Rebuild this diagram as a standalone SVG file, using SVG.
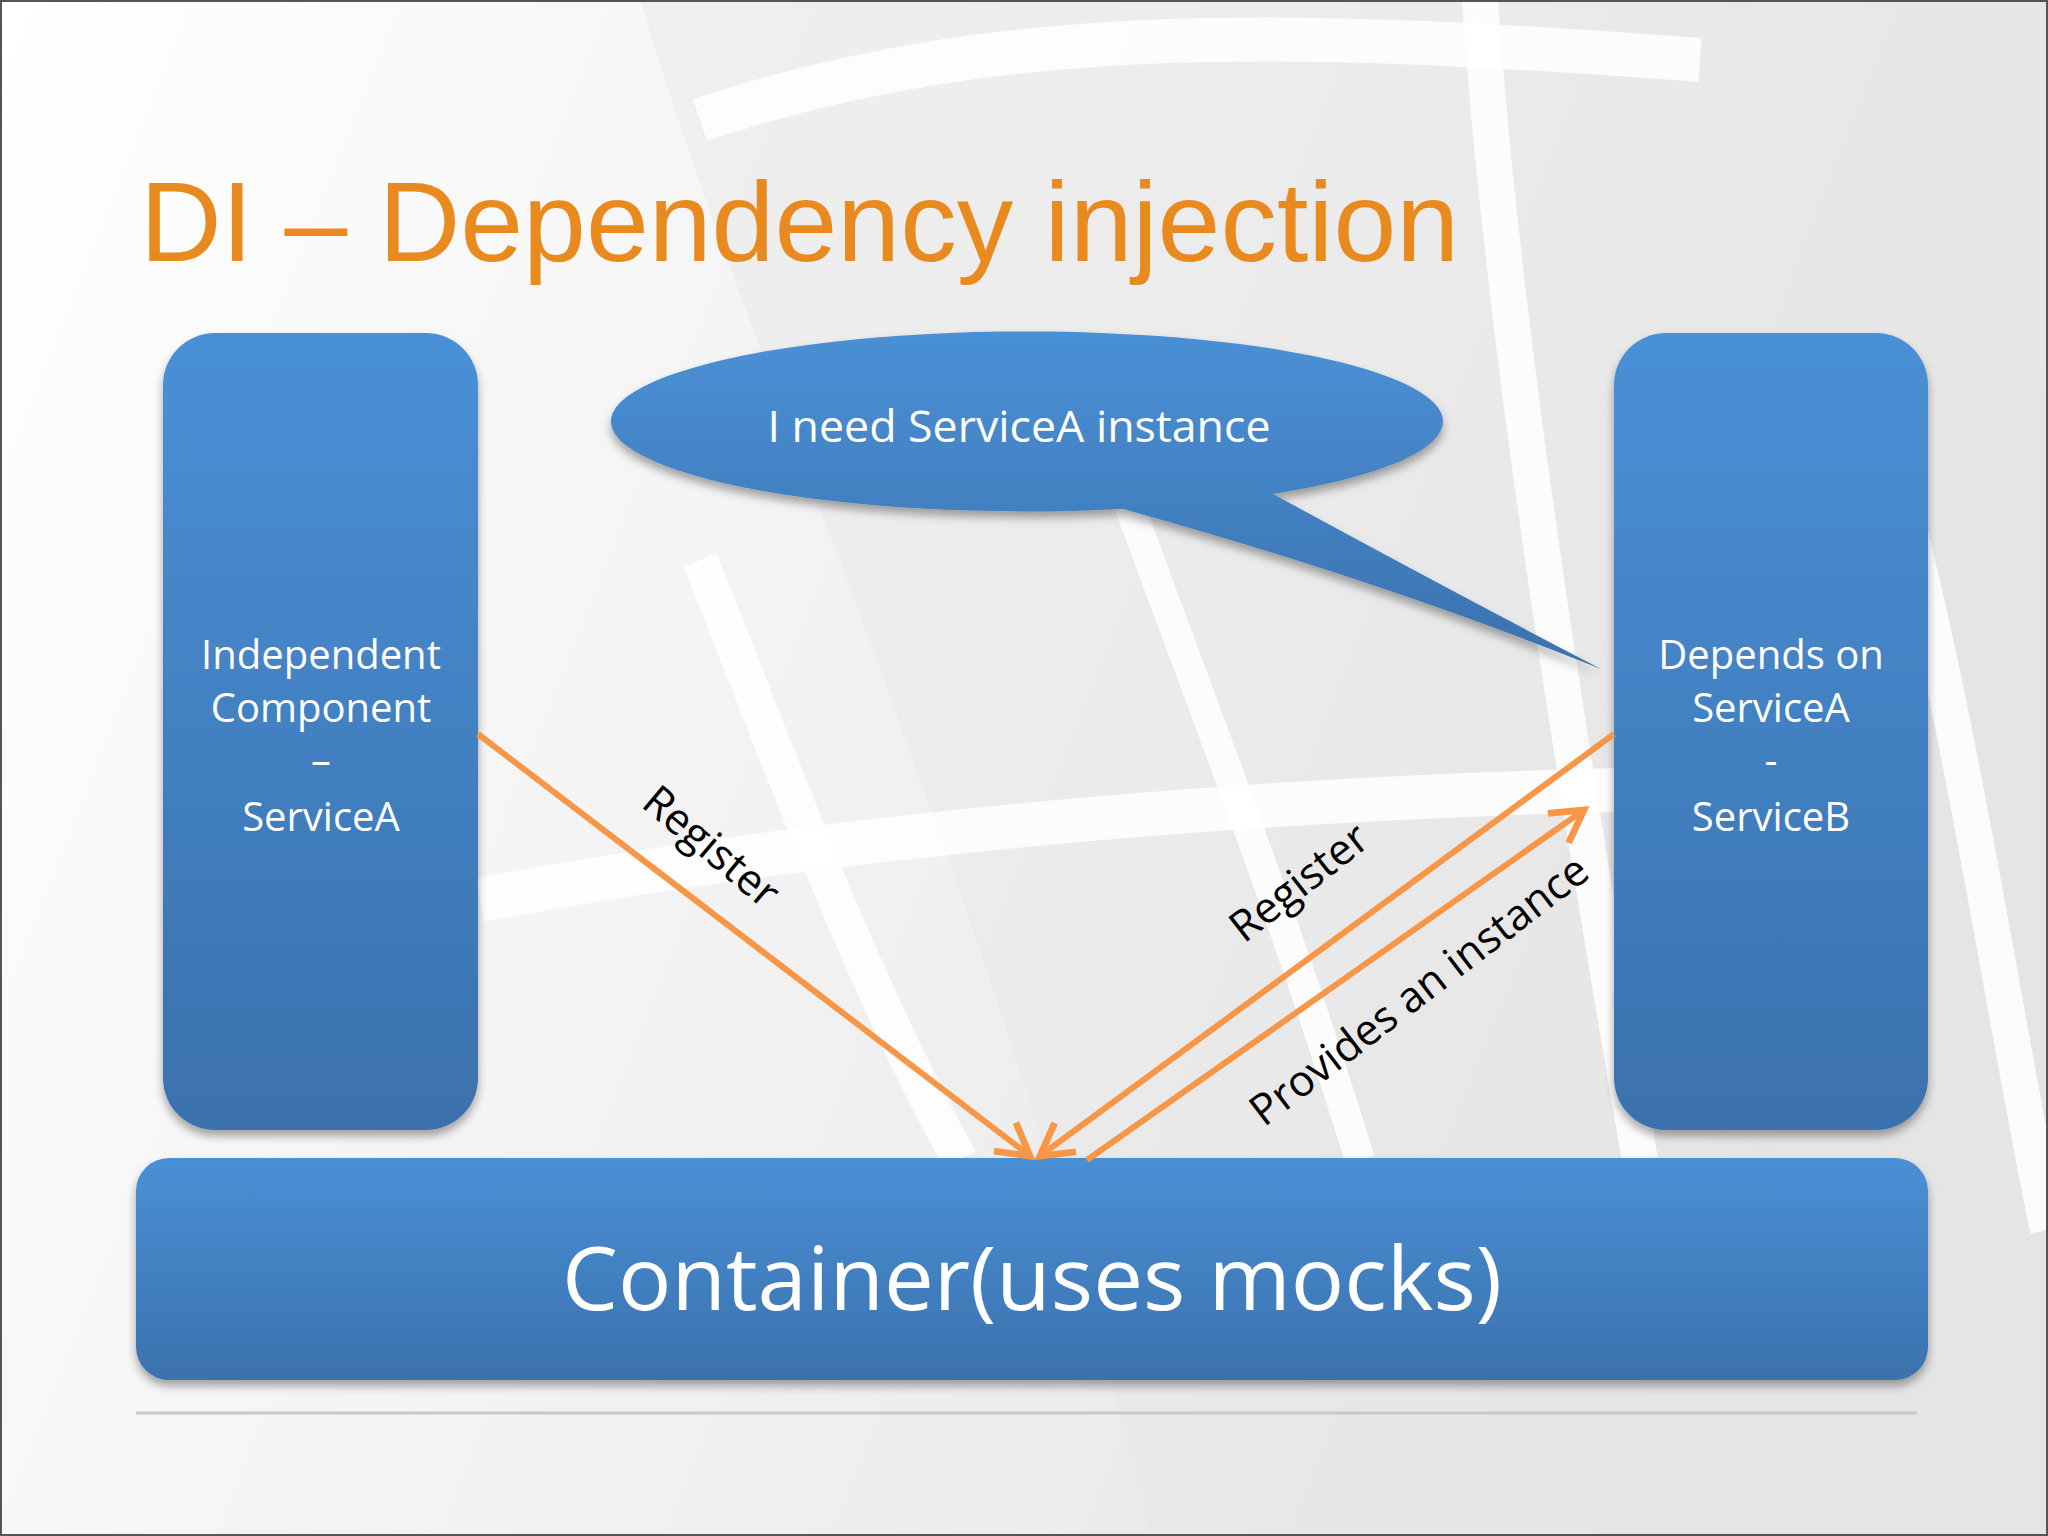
<svg xmlns="http://www.w3.org/2000/svg" width="2048" height="1536" viewBox="0 0 2048 1536">
  <defs>
    <linearGradient id="bg" x1="0" y1="0" x2="1" y2="0.3">
      <stop offset="0" stop-color="#ffffff"/>
      <stop offset="0.3" stop-color="#f7f7f7"/>
      <stop offset="0.7" stop-color="#ededee"/>
      <stop offset="1" stop-color="#e4e4e5"/>
    </linearGradient>
    <linearGradient id="blue" x1="0" y1="0" x2="0" y2="1">
      <stop offset="0" stop-color="#4a90d6"/>
      <stop offset="1" stop-color="#3b71ad"/>
    </linearGradient>
    <filter id="shadow" x="-10%" y="-10%" width="120%" height="125%">
      <feDropShadow dx="0" dy="6" stdDeviation="5" flood-color="#000" flood-opacity="0.35"/>
    </filter>
    <marker id="arr" viewBox="0 0 20 20" refX="17" refY="10" markerWidth="7.5" markerHeight="7.5" markerUnits="strokeWidth" orient="auto">
      <path d="M3,2 L17,10 L3,18" fill="none" stroke="#F79646" stroke-width="3" stroke-linejoin="miter"/>
    </marker>
    <style>
      .box { fill: url(#blue); filter: url(#shadow); }
      .lbl { font-family: "Open Sans", "Noto Sans", sans-serif; fill: #ffffff; text-anchor: middle; }
      .conn { stroke: #F79646; stroke-width: 6; fill: none; }
      .clbl { font-family: "Open Sans", "Noto Sans", sans-serif; fill: #000000; font-size: 43px; text-anchor: middle; }
      .band { stroke: #ffffff; fill: none; stroke-linecap: butt; opacity: 0.85; }
    </style>
  </defs>

  <g id="background">
    <rect x="0" y="0" width="2048" height="1536" fill="url(#bg)"/>
    <path d="M640,0 C760,400 1000,900 1150,1536 L2048,1536 L2048,0 Z" fill="#e6e6e7" opacity="0.45"/>
    <path class="band" stroke-width="36" d="M700,560 C780,760 860,980 960,1160"/>
    <path class="band" stroke-width="44" d="M480,900 C800,840 1200,800 1620,790"/>
    <path class="band" stroke-width="30" d="M1120,480 C1200,700 1280,900 1360,1160"/>
    <path class="band" stroke-width="36" d="M1480,0 C1500,300 1560,700 1640,1160"/>
    <path class="band" stroke-width="36" d="M1880,420 C1960,700 2000,1000 2048,1230"/>
    <path class="band" stroke-width="44" d="M700,120 C1000,20 1300,30 1700,60"/>
    <rect x="1" y="1" width="2046" height="1534" fill="none" stroke="#555555" stroke-width="2"/>
  </g>

  <g id="title">
    <text x="140" y="261" font-family="Liberation Sans, Arial, sans-serif" font-size="113" fill="#E98A1F">DI – Dependency injection</text>
  </g>

  <g id="node-servicea">
    <rect class="box" x="163" y="333" width="315" height="797" rx="52" ry="52"/>
    <text class="lbl" font-size="40" x="321" y="669">Independent</text>
    <text class="lbl" font-size="40" x="321" y="722">Component</text>
    <text class="lbl" font-size="40" x="321" y="774">–</text>
    <text class="lbl" font-size="40" x="321" y="831">ServiceA</text>
  </g>

  <g id="node-serviceb">
    <rect class="box" x="1614" y="333" width="314" height="797" rx="52" ry="52"/>
    <text class="lbl" font-size="40" x="1771" y="669">Depends on</text>
    <text class="lbl" font-size="40" x="1771" y="722">ServiceA</text>
    <text class="lbl" font-size="40" x="1771" y="774">-</text>
    <text class="lbl" font-size="40" x="1771" y="831">ServiceB</text>
  </g>

  <g id="node-callout">
    <path class="box" d="M1123,509 A416,90 0 1 1 1273,494 Q1440,585 1601,669 Q1380,580 1123,509 Z"/>
    <text class="lbl" font-size="44" x="1019" y="442" textLength="503" lengthAdjust="spacingAndGlyphs">I need ServiceA instance</text>
  </g>

  <g id="node-container">
    <rect class="box" x="136" y="1158" width="1792" height="222" rx="33" ry="33"/>
    <text class="lbl" font-size="88" x="1032" y="1310" textLength="940" lengthAdjust="spacingAndGlyphs">Container(uses mocks)</text>
  </g>

  <line x1="136" y1="1413" x2="1917" y2="1413" stroke="#c8c8c8" stroke-width="3"/>

  <g id="connectors">
    <line class="conn" x1="478" y1="734" x2="1030" y2="1156" marker-end="url(#arr)"/>
    <line class="conn" x1="1614" y1="734" x2="1040" y2="1156" marker-end="url(#arr)"/>
    <line class="conn" x1="1087" y1="1160" x2="1584" y2="810" marker-end="url(#arr)"/>
    <text class="clbl" transform="translate(702,858) rotate(40)">Register</text>
    <text class="clbl" transform="translate(1308,894) rotate(-38)">Register</text>
    <text class="clbl" transform="translate(1428,1002) rotate(-37.5)">Provides an instance</text>
  </g>
</svg>
